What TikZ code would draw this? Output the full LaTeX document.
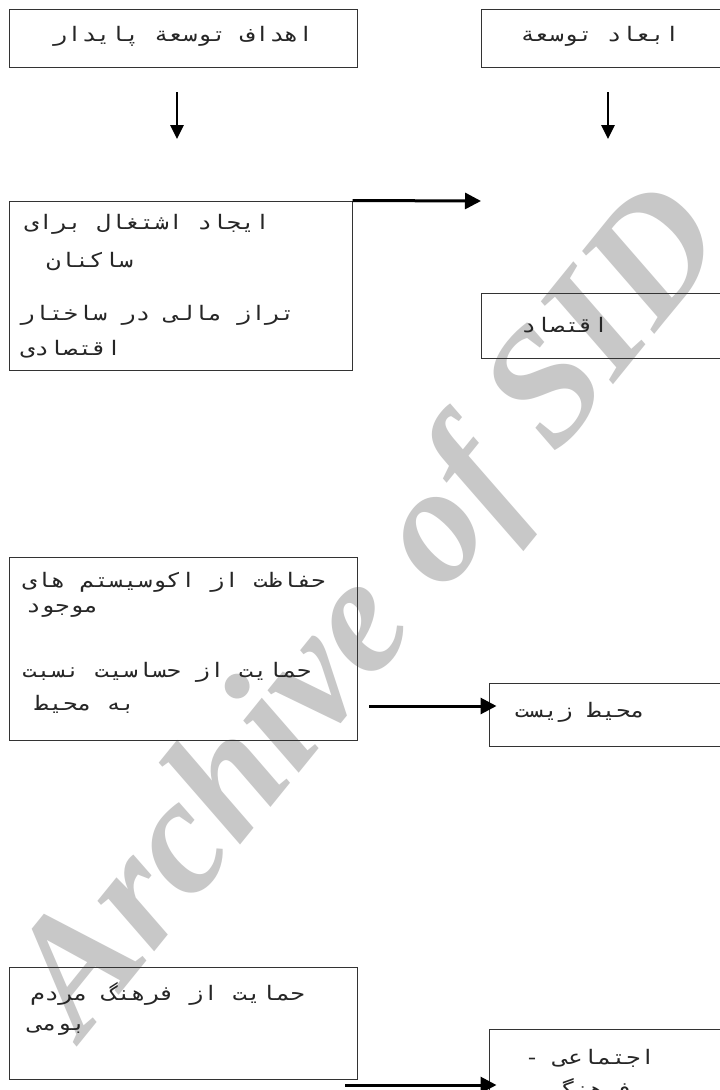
\documentclass[tikz,border=0pt]{standalone}
\usepackage{fontspec}
\TeXXeTstate=1
\newfontfamily\arfont[Script=Arabic,FakeStretch=1.2]{DejaVu Sans Mono}
\newfontfamily\wmfont{Liberation Serif}
\usetikzlibrary{arrows.meta,calc,fit}
\definecolor{wmgray}{RGB}{200,200,200}
\begin{document}
\begin{tikzpicture}[x=0.75pt,y=-0.75pt,
  box/.style={draw=black!80, line width=0.75pt, inner sep=0pt},
  ar/.style={font=\arfont\fontsize{15}{18}\selectfont, inner sep=0pt, text=black!85},
  thickarrow/.style={line width=2.25pt, -{Triangle[length=12pt,width=12pt]}},
  thinarrow/.style={line width=1.5pt, -{Triangle[length=10.5pt,width=10pt]}},
  wm/.style={font=\wmfont\bfseries\itshape\fontsize{124}{124}\selectfont, text=wmgray, inner sep=0pt}]
\fill[white] (0,0) rectangle (720,1090);
\clip (0,0) rectangle (720,1090);
\useasboundingbox (0,0) rectangle (720,1090);
% watermark
\node[wm, rotate=51] (wmark) at (375,615) {Archive of SID};
% boxes
\node[box, fit={(9,9) (357,67)}] (A) {};
\node[box, fit={(481,9) (725,67)}] (B) {};
\node[box, fit={(9,201) (352,370)}] (C) {};
\node[box, fit={(481,293) (725,358)}] (D) {};
\node[box, fit={(9,557) (357,740)}] (E) {};
\node[box, fit={(489,683) (725,746)}] (F) {};
\node[box, fit={(9,967) (357,1079)}] (G) {};
\node[box, fit={(489,1029) (725,1110)}] (H) {};
% texts
\node[ar] (At) at (183,36) {\beginR اهداف توسعة پايدار\endR};
\node[ar] (Bt) at (600,36) {\beginR ابعاد توسعة\endR};
\node[ar, anchor=west] (c1) at (24,224) {\beginR ايجاد اشتغال براى\endR};
\node[ar, anchor=west] (c2) at (46,262) {\beginR ساكنان\endR};
\node[ar, anchor=west] (c3) at (20,315) {\beginR تراز مالى در ساختار\endR};
\node[ar, anchor=west] (c4) at (20,349) {\beginR اقتصادى\endR};
\node[ar] (Dt) at (565,325) {\beginR اقتصاد\endR};
\node[ar, anchor=west] (e1) at (22,582) {\beginR حفاظت از اكوسيستم هاى\endR};
\node[ar, anchor=west] (e2) at (26,611) {\beginR موجود\endR};
\node[ar, anchor=west] (e3) at (22,672) {\beginR حمايت از حساسيت نسبت\endR};
\node[ar, anchor=west] (e4) at (34,704) {\beginR به محيط\endR};
\node[ar] (Ft) at (580,712) {\beginR محيط زيست\endR};
\node[ar, anchor=west] (g1) at (30,994) {\beginR حمايت از فرهنگ مردم\endR};
\node[ar, anchor=west] (g2) at (28,1030) {\beginR بومى\endR};
\node[ar] (h1) at (590,1058) {\beginR اجتماعى -\endR};
\node[ar] (h2) at (590,1090) {\beginR فرهنگى\endR};
% arrows
\coordinate (a1s) at (177,92);
\coordinate (a1e) at (177,139);
\coordinate (a2s) at (608,92);
\coordinate (a2e) at (608,139);
\draw[thinarrow] (a1s) -- (a1e);
\draw[thinarrow] (a2s) -- (a2e);
\coordinate (ce) at (481,201);
\draw[thickarrow] (C.north east) -- (ce);
\coordinate (ef) at (369,706);
\draw[thickarrow] (ef) -- ($(ef -| F.west)+(8,0)$);
\coordinate (gh) at (345,1085);
\draw[thickarrow] (gh) -- ($(gh -| H.west)+(8,0)$);
\end{tikzpicture}
\end{document}
